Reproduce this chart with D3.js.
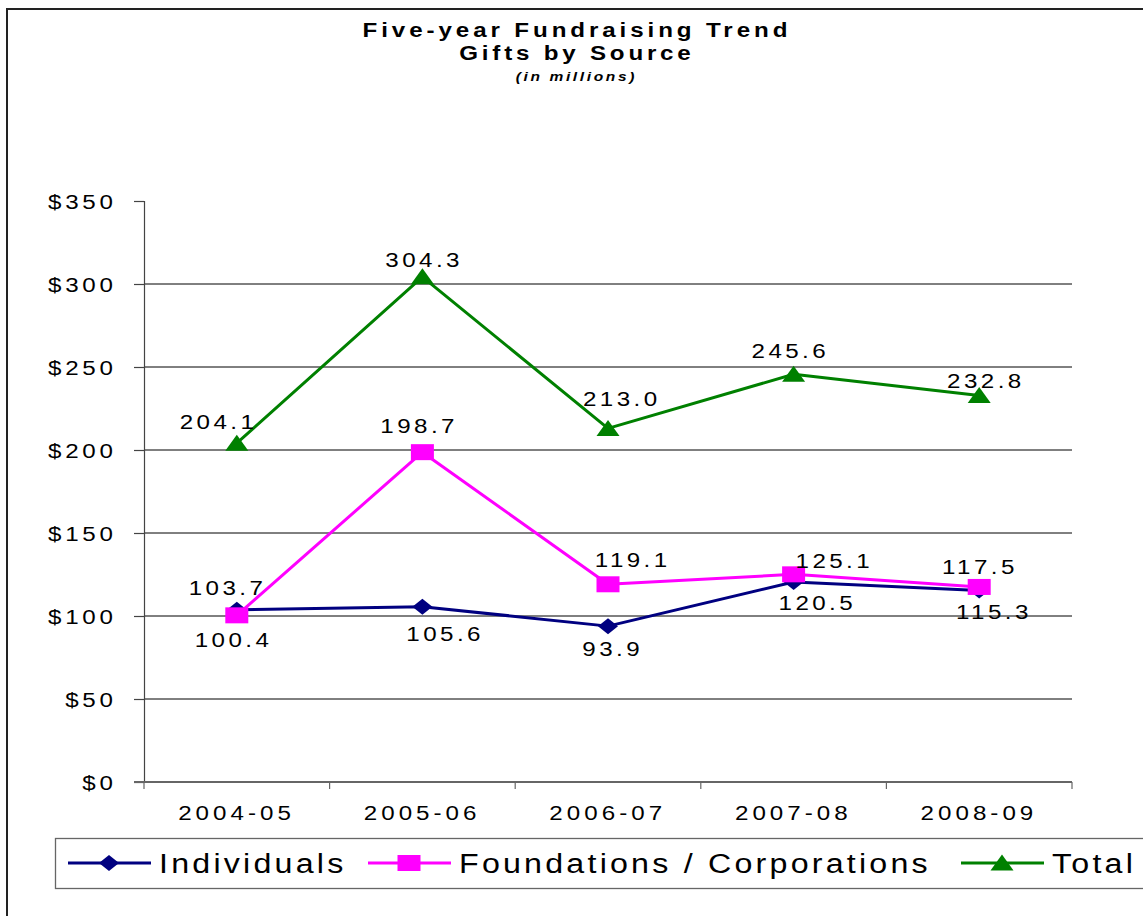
<!DOCTYPE html>
<html>
<head>
<meta charset="utf-8">
<script src="https://cdn.jsdelivr.net/npm/d3@7"></script>
<style>
  html, body { margin: 0; padding: 0; background: #fff; }
  svg { display: block; }
  text { font-family: "Liberation Sans", Arial, sans-serif; fill: #000; }
</style>
</head>
<body>
<svg id="chart" width="1143" height="916"></svg>
<script>
// ---- data ----
const categories = ["2004-05", "2005-06", "2006-07", "2007-08", "2008-09"];
const individuals = [103.7, 105.6, 93.9, 120.5, 115.3];
const foundations = [100.4, 198.7, 119.1, 125.1, 117.5];
const total = [204.1, 304.3, 213.0, 245.6, 232.8];
const yTickValues = [0, 50, 100, 150, 200, 250, 300, 350];
const gridValues = [50, 100, 150, 200, 250, 300];
const seriesNames = ["Individuals", "Foundations / Corporations", "Total"];
const titleLines = ["Five-year Fundraising Trend", "Gifts by Source", "(in millions)"];

// label placement offsets (dx, dy) relative to each point
const individualsLabelOffsets = [[-11, -22], [21, 27], [3, 23], [22, 21], [13, 21]];
const foundationsLabelOffsets = [[-5, 24], [-5, -27], [23, -25], [39, -14], [-1, -20]];
const totalLabelOffsets = [[-20, -22], [0, -17], [12, -30], [-5, -24], [5, -15]];

// ---- layout / style ----
const SX = 1.15; // horizontal stretch of text
const svg = d3.select("#chart");
const x = d3.scaleBand().domain(categories).range([144, 1072]);
const y = d3.scaleLinear().domain([0, 350]).range([782, 201]);

const series = [
  { name: seriesNames[0], values: individuals, offsets: individualsLabelOffsets, color: "#000080", marker: "diamond" },
  { name: seriesNames[1], values: foundations, offsets: foundationsLabelOffsets, color: "#FF00FF", marker: "square" },
  { name: seriesNames[2], values: total, offsets: totalLabelOffsets, color: "#008000", marker: "triangle" }
];

function markerPath(type) {
  if (type === "diamond") return "M0,-8 L10,0 L0,8 L-10,0 Z";
  if (type === "square") return "M-11.5,-8 H11.5 V8 H-11.5 Z";
  return "M0,-8.5 L11.5,7.5 L-11.5,7.5 Z";
}

// outer frame
svg.append("path").attr("d", "M7,920 V9 H1150")
  .attr("fill", "none").attr("stroke", "#222").attr("stroke-width", 2);

// title
const titleG = svg.append("g");
const titleSpecs = [
  { t: titleLines[0], y: 36.5, size: 21, weight: "bold", style: "normal", ls: 3.4 },
  { t: titleLines[1], y: 60, size: 21, weight: "bold", style: "normal", ls: 3.3 },
  { t: titleLines[2], y: 80.5, size: 13.5, weight: "bold", style: "italic", ls: 2.3 }
];
titleSpecs.forEach(s => {
  titleG.append("text")
    .attr("transform", `translate(${575 + s.ls * SX / 2},${s.y}) scale(${SX},1)`)
    .attr("text-anchor", "middle")
    .style("font-size", s.size + "px")
    .style("font-weight", s.weight)
    .style("font-style", s.style)
    .style("letter-spacing", s.ls + "px")
    .text(s.t);
});

// gridlines
svg.append("g").selectAll("line").data(gridValues).join("line")
  .attr("x1", 144).attr("x2", 1072)
  .attr("y1", d => y(d)).attr("y2", d => y(d))
  .attr("stroke", "#000").attr("stroke-width", 1);

// y axis
const yLS = 3.3;
const yAxis = svg.append("g").attr("transform", "translate(144,0)")
  .call(d3.axisLeft(y).tickValues(yTickValues).tickSize(10).tickFormat(d => "$" + d));
yAxis.select(".domain").attr("stroke", "#444").attr("stroke-width", 1.2);
yAxis.selectAll(".tick line").attr("stroke", "#444").attr("stroke-width", 1.2);
yAxis.selectAll(".tick text")
  .attr("x", (-31 + yLS * SX) / SX)
  .attr("dy", "0.35em")
  .attr("transform", `scale(${SX},1)`)
  .style("font-size", "21px")
  .style("letter-spacing", yLS + "px")
  .style("font-family", "'Liberation Sans', Arial, sans-serif")
  .attr("fill", "#000");

// x axis
const xLS = 3.5;
const xAxis = svg.append("g").attr("transform", "translate(0,782)")
  .call(d3.axisBottom(x).tickSize(0).tickPadding(0));
xAxis.select(".domain").remove();
xAxis.selectAll(".tick text")
  .attr("x", (xLS / 2 - 2))
  .attr("y", 31)
  .attr("dy", "0.35em")
  .attr("transform", `scale(${SX},1)`)
  .style("font-size", "21px")
  .style("letter-spacing", xLS + "px")
  .style("font-family", "'Liberation Sans', Arial, sans-serif")
  .attr("fill", "#000");
svg.append("line").attr("x1", 134).attr("x2", x.range()[1])
  .attr("y1", y(0)).attr("y2", y(0))
  .attr("stroke", "#666").attr("stroke-width", 2);
const boundaries = categories.map(c => x(c)).concat([x.range()[1]]);
svg.append("g").selectAll("line").data(boundaries).join("line")
  .attr("x1", d => d).attr("x2", d => d)
  .attr("y1", y(0)).attr("y2", y(0) + 7)
  .attr("stroke", "#666").attr("stroke-width", 1.2);

// series
const cx = c => x(c) + x.bandwidth() / 2;
const line = d3.line().x((d, i) => cx(categories[i])).y(d => y(d));
series.forEach(s => {
  const g = svg.append("g");
  g.append("path").attr("d", line(s.values))
    .attr("fill", "none").attr("stroke", s.color).attr("stroke-width", 3)
    .attr("stroke-linejoin", "round");
  g.selectAll("path.m").data(s.values).join("path").attr("class", "m")
    .attr("transform", (d, i) => `translate(${cx(categories[i])},${y(d)})`)
    .attr("d", markerPath(s.marker))
    .attr("fill", s.color);
});

// data labels
const lblLS = 3;
series.forEach(s => {
  svg.append("g").selectAll("text").data(s.values).join("text")
    .attr("transform", (d, i) => `translate(${cx(categories[i]) + s.offsets[i][0] + lblLS * SX / 2},${y(d) + s.offsets[i][1]}) scale(${SX},1)`)
    .attr("text-anchor", "middle")
    .attr("dy", "0.35em")
    .style("font-size", "21px")
    .style("letter-spacing", lblLS + "px")
    .text(d => d.toFixed(1));
});

// legend
const legend = svg.append("g");
legend.append("rect").attr("x", 55.5).attr("y", 838.5).attr("width", 1110).attr("height", 50)
  .attr("fill", "#fff").attr("stroke", "#666").attr("stroke-width", 1.3);
const legendX = [68, 368, 961];
series.forEach((s, i) => {
  const g = legend.append("g").attr("transform", `translate(${legendX[i]},863)`);
  g.append("line").attr("x1", 0).attr("x2", 83).attr("y1", 0).attr("y2", 0)
    .attr("stroke", s.color).attr("stroke-width", 3);
  g.append("path").attr("transform", "translate(41,0)").attr("d", markerPath(s.marker)).attr("fill", s.color);
  g.append("text")
    .attr("transform", `translate(91,10) scale(${SX},1)`)
    .style("font-size", "28px")
    .style("letter-spacing", "2.8px")
    .text(s.name);
});
</script>
</body>
</html>
